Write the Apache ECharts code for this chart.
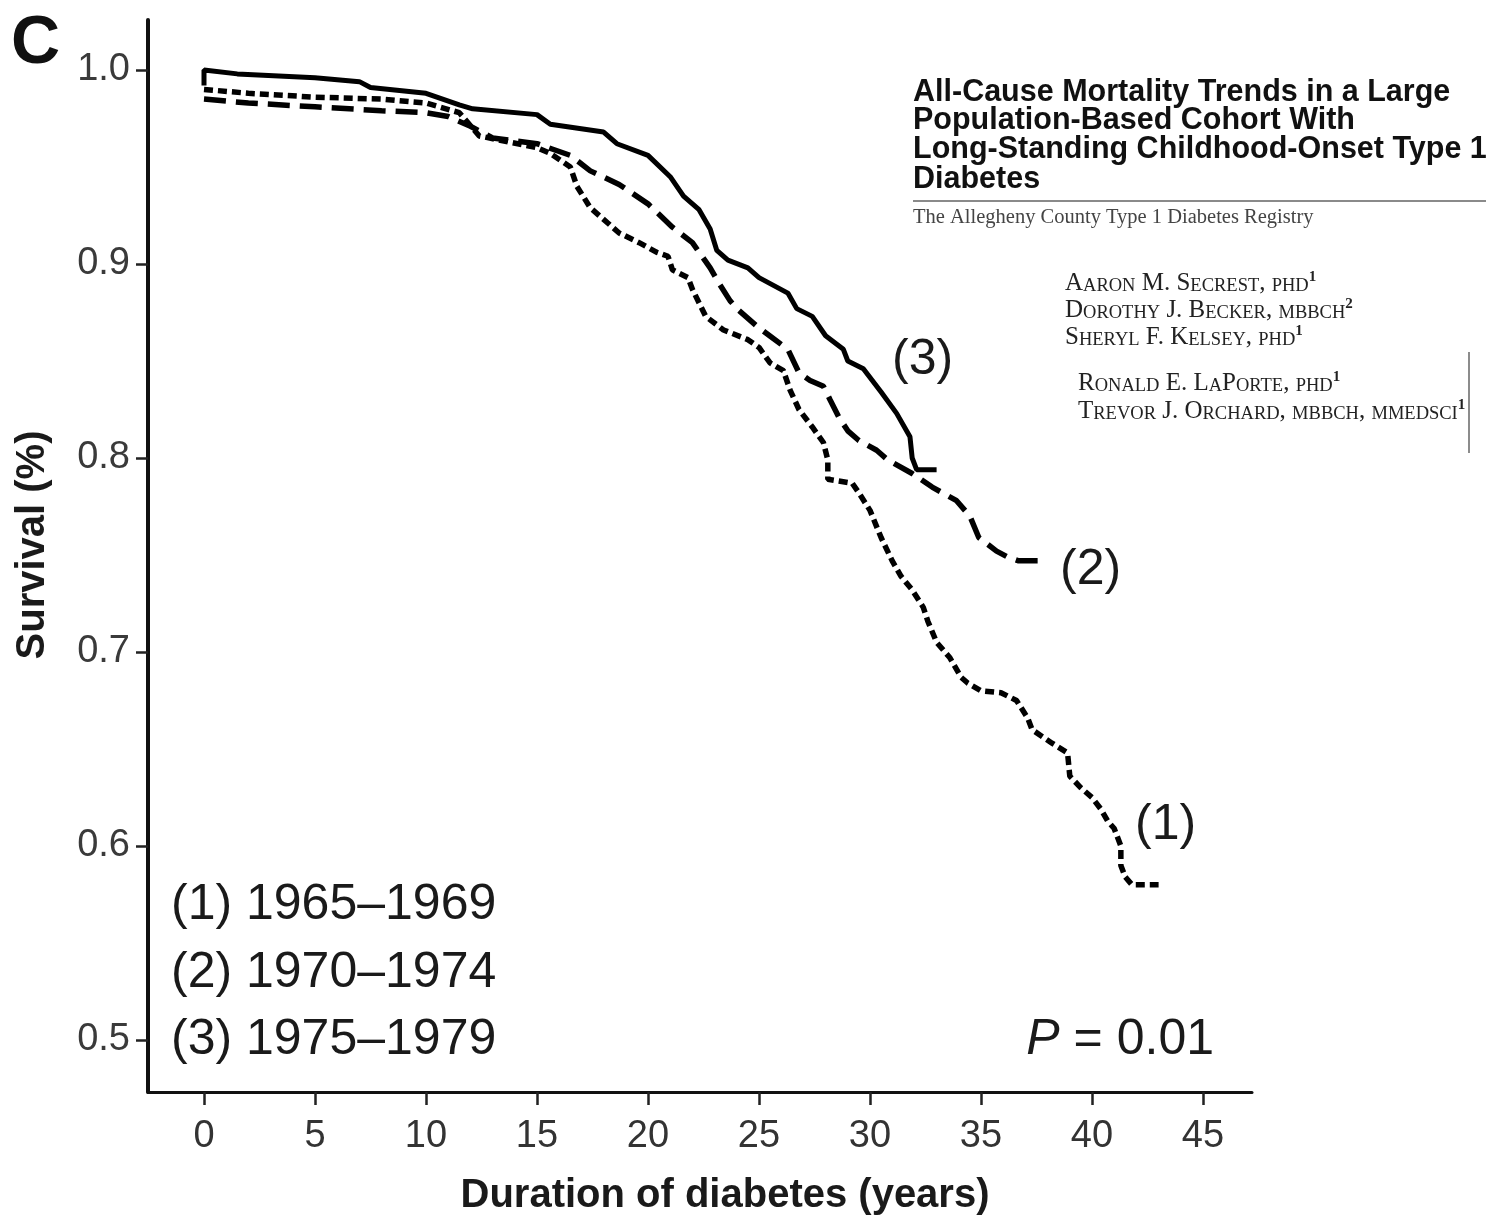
<!DOCTYPE html>
<html>
<head>
<meta charset="utf-8">
<script src="https://cdn.jsdelivr.net/npm/echarts@6/dist/echarts.min.js"></script>
<style>html,body{margin:0;padding:0;background:#fff}#c{width:1499px;height:1221px}</style>
</head>
<body>
<div id="c"></div>
<script>
// ---- data ----
const xTicks = [0, 5, 10, 15, 20, 25, 30, 35, 40, 45];
const yTicks = [0.5, 0.6, 0.7, 0.8, 0.9, 1.0];

const cohort1Years = [0,2,5,8,10,11.5,12.4,15,15.6,16.5,16.8,17.4,18.2,18.7,19.6,20.4,20.9,21.1,21.8,22,22.6,23.4,24.5,25,25.5,26.1,26.4,26.8,27.4,27.9,28.1,28.1,29.2,29.5,30,30.5,31,31.4,31.9,32.4,32.6,33,33.6,34.1,34.4,35,35.9,36.6,37.1,37.3,38.2,38.9,39,39.5,40,40.4,40.7,41,41.3,41.3,41.5,41.8,43];
const cohort1Survival = [0.990,0.988,0.986,0.985,0.983,0.978,0.966,0.960,0.957,0.950,0.940,0.929,0.921,0.916,0.911,0.906,0.904,0.897,0.893,0.887,0.873,0.866,0.861,0.857,0.849,0.845,0.835,0.825,0.816,0.808,0.799,0.789,0.787,0.782,0.773,0.759,0.747,0.739,0.732,0.723,0.716,0.705,0.697,0.687,0.684,0.680,0.679,0.675,0.666,0.660,0.653,0.648,0.636,0.630,0.625,0.619,0.613,0.609,0.600,0.590,0.584,0.580,0.580];

const cohort2Years = [0,2,5,8,10,11,12,13,15,16.5,17.4,18.7,20,21.1,22,22.8,23.2,23.7,24.1,24.9,25.6,26.3,26.8,27.3,27.9,28.2,28.6,29,29.5,30.3,30.8,31.9,32.8,33.9,34.5,34.9,35.7,36.2,36.7,37.8];
const cohort2Survival = [0.985,0.983,0.981,0.979,0.978,0.976,0.971,0.965,0.962,0.956,0.948,0.941,0.931,0.919,0.911,0.898,0.890,0.881,0.876,0.868,0.862,0.856,0.844,0.840,0.837,0.830,0.821,0.814,0.809,0.804,0.799,0.792,0.785,0.778,0.770,0.759,0.752,0.749,0.747,0.747];

const cohort3Years = [0,0,1.5,5,7,7.5,10,11.5,12.1,15,15.6,18,18.6,20,21,21.6,22.3,22.8,23.1,23.6,24.5,25,26.3,26.7,27.4,28,28.8,29,29.7,30.5,31.2,31.8,31.9,32.1,33];
const cohort3Survival = [0.992,1.000,0.998,0.996,0.994,0.991,0.988,0.982,0.980,0.977,0.972,0.968,0.962,0.956,0.945,0.935,0.928,0.918,0.907,0.902,0.898,0.893,0.885,0.877,0.873,0.863,0.856,0.850,0.846,0.834,0.823,0.811,0.800,0.794,0.794];

const legendLines = ['(1) 1965\u20131969', '(2) 1970\u20131974', '(3) 1975\u20131979'];
const curveTags = ['(1)', '(2)', '(3)'];
const titleLines = ['All-Cause Mortality Trends in a Large', 'Population-Based Cohort With', 'Long-Standing Childhood-Onset Type 1', 'Diabetes'];
const subtitle = 'The Allegheny County Type 1 Diabetes Registry';
const authorsA = [['Aaron M. Secrest, phd', '1'], ['Dorothy J. Becker, mbbch', '2'], ['Sheryl F. Kelsey, phd', '1']];
const authorsB = [['Ronald E. LaPorte, phd', '1'], ['Trevor J. Orchard, mbbch, mmedsci', '1']];

// ---- helpers ----
function zip(xs, ys) { return xs.map((x, i) => [x, ys[i]]); }
function smallCaps(s) {
  let out = '', i = 0;
  while (i < s.length) {
    const isLower = s[i] !== s[i].toUpperCase();
    let j = i;
    while (j < s.length && ((s[j] !== s[j].toUpperCase()) === isLower)) j++;
    const seg = s.slice(i, j);
    out += isLower ? '{s|' + seg.toUpperCase() + '}' : '{b|' + seg + '}';
    i = j;
  }
  return out;
}
const SANS = 'Liberation Sans, Arial, sans-serif';
const SERIF = 'Liberation Serif, Times New Roman, serif';
const scRich = {
  b: {fontFamily: SERIF, fontSize: 25, fill: '#222', verticalAlign: 'bottom', lineHeight: 26},
  s: {fontFamily: SERIF, fontSize: 18.5, fill: '#222', verticalAlign: 'bottom', lineHeight: 26},
  sup: {fontFamily: SERIF, fontSize: 15, fontWeight: 'bold', fill: '#222', verticalAlign: 'top', lineHeight: 26}
};

const chart = echarts.init(document.getElementById('c'), null, {renderer: 'canvas'});

const graphics = [];
graphics.push({type: 'text', x: 11, y: 44, style: {text: 'C', font: 'bold 68px ' + SANS, fill: '#111', align: 'left', verticalAlign: 'middle'}});
const legendY = [905, 973, 1040];
legendLines.forEach((t, i) => graphics.push({type: 'text', x: 171, y: legendY[i], style: {text: t, font: '50px ' + SANS, fill: '#1a1a1a', align: 'left', verticalAlign: 'middle'}}));
graphics.push({type: 'text', x: 1214, y: 1040, style: {
  text: '{i|P} = 0.01', align: 'right', verticalAlign: 'middle', font: '50px ' + SANS, fill: '#1a1a1a',
  rich: {i: {fontStyle: 'italic', fontFamily: SANS, fontSize: 50, fill: '#1a1a1a'}}
}});
const tagPos = [[1135, 825], [1060, 570], [892, 360]];
curveTags.forEach((t, i) => graphics.push({type: 'text', x: tagPos[i][0], y: tagPos[i][1], style: {text: t, font: '50px ' + SANS, fill: '#1a1a1a', align: 'left', verticalAlign: 'middle'}}));
const titleY = [93, 121, 150, 180];
titleLines.forEach((t, i) => graphics.push({type: 'text', x: 913, y: titleY[i], style: {text: t, font: 'bold 30.5px ' + SANS, fill: '#111', align: 'left', verticalAlign: 'middle'}}));
graphics.push({type: 'line', shape: {x1: 913, y1: 201, x2: 1486, y2: 201}, style: {stroke: '#8a8a8a', lineWidth: 2}});
graphics.push({type: 'text', x: 913, y: 218, style: {text: subtitle, font: '20.5px ' + SERIF, fill: '#444', align: 'left', verticalAlign: 'middle'}});
authorsA.forEach((a, i) => graphics.push({type: 'text', x: 1065, y: 283 + i * 27, style: {text: smallCaps(a[0]) + '{sup|' + a[1] + '}', rich: scRich, align: 'left', verticalAlign: 'middle'}}));
authorsB.forEach((a, i) => graphics.push({type: 'text', x: 1078, y: 383 + i * 28, style: {text: smallCaps(a[0]) + '{sup|' + a[1] + '}', rich: scRich, align: 'left', verticalAlign: 'middle'}}));
graphics.push({type: 'line', shape: {x1: 1469, y1: 352, x2: 1469, y2: 453}, style: {stroke: '#666', lineWidth: 1.5}});

const option = {
  animation: false,
  backgroundColor: '#ffffff',
  grid: [
    {left: 204, right: 296, top: 70, bottom: 181},
    {left: 148, right: 247, top: 20, bottom: 129}
  ],
  xAxis: [
    {gridIndex: 0, type: 'value', min: xTicks[0], max: xTicks[xTicks.length - 1], interval: 5, offset: 52,
     axisLine: {show: false, onZero: false},
     axisTick: {show: true, length: 13, lineStyle: {color: '#222', width: 2.5}},
     axisLabel: {fontSize: 38, color: '#333', margin: 26, fontFamily: SANS},
     splitLine: {show: false},
     name: 'Duration of diabetes (years)', nameLocation: 'middle', nameGap: 84,
     nameTextStyle: {fontSize: 40, fontWeight: 'bold', color: '#1a1a1a', fontFamily: SANS, padding: [0, 0, 0, 43]}},
    {gridIndex: 1, type: 'value', min: 0, max: 1, axisLine: {show: true, onZero: false, lineStyle: {color: '#111', width: 3}},
     axisTick: {show: false}, axisLabel: {show: false}, splitLine: {show: false}}
  ],
  yAxis: [
    {gridIndex: 0, type: 'value', min: yTicks[0], max: yTicks[yTicks.length - 1], interval: 0.1, offset: 56,
     axisLine: {show: false, onZero: false},
     axisTick: {show: true, length: 12, lineStyle: {color: '#222', width: 2.5}},
     axisLabel: {fontSize: 38, color: '#3a3a3a', margin: 18, fontFamily: SANS, formatter: v => v.toFixed(1)},
     splitLine: {show: false},
     name: 'Survival (%)', nameLocation: 'middle', nameGap: 95,
     nameTextStyle: {fontSize: 40, fontWeight: 'bold', color: '#1a1a1a', fontFamily: SANS, padding: [0, 0, 0, 20]}},
    {gridIndex: 1, type: 'value', min: 0, max: 1, axisLine: {show: true, onZero: false, lineStyle: {color: '#111', width: 4}},
     axisTick: {show: false}, axisLabel: {show: false}, splitLine: {show: false}}
  ],
  series: [
    {name: '(1) 1965–1969', type: 'line', xAxisIndex: 0, yAxisIndex: 0, data: zip(cohort1Years, cohort1Survival),
     symbol: 'none', clip: false, lineStyle: {color: '#000', width: 5.5, type: [9, 5]}},
    {name: '(2) 1970–1974', type: 'line', xAxisIndex: 0, yAxisIndex: 0, data: zip(cohort2Years, cohort2Survival),
     symbol: 'none', clip: false, lineStyle: {color: '#000', width: 5.5, type: [22, 10]}},
    {name: '(3) 1975–1979', type: 'line', xAxisIndex: 0, yAxisIndex: 0, data: zip(cohort3Years, cohort3Survival),
     symbol: 'none', clip: false, lineStyle: {color: '#000', width: 5}}
  ],
  graphic: graphics
};
chart.setOption(option);
</script>
</body>
</html>
